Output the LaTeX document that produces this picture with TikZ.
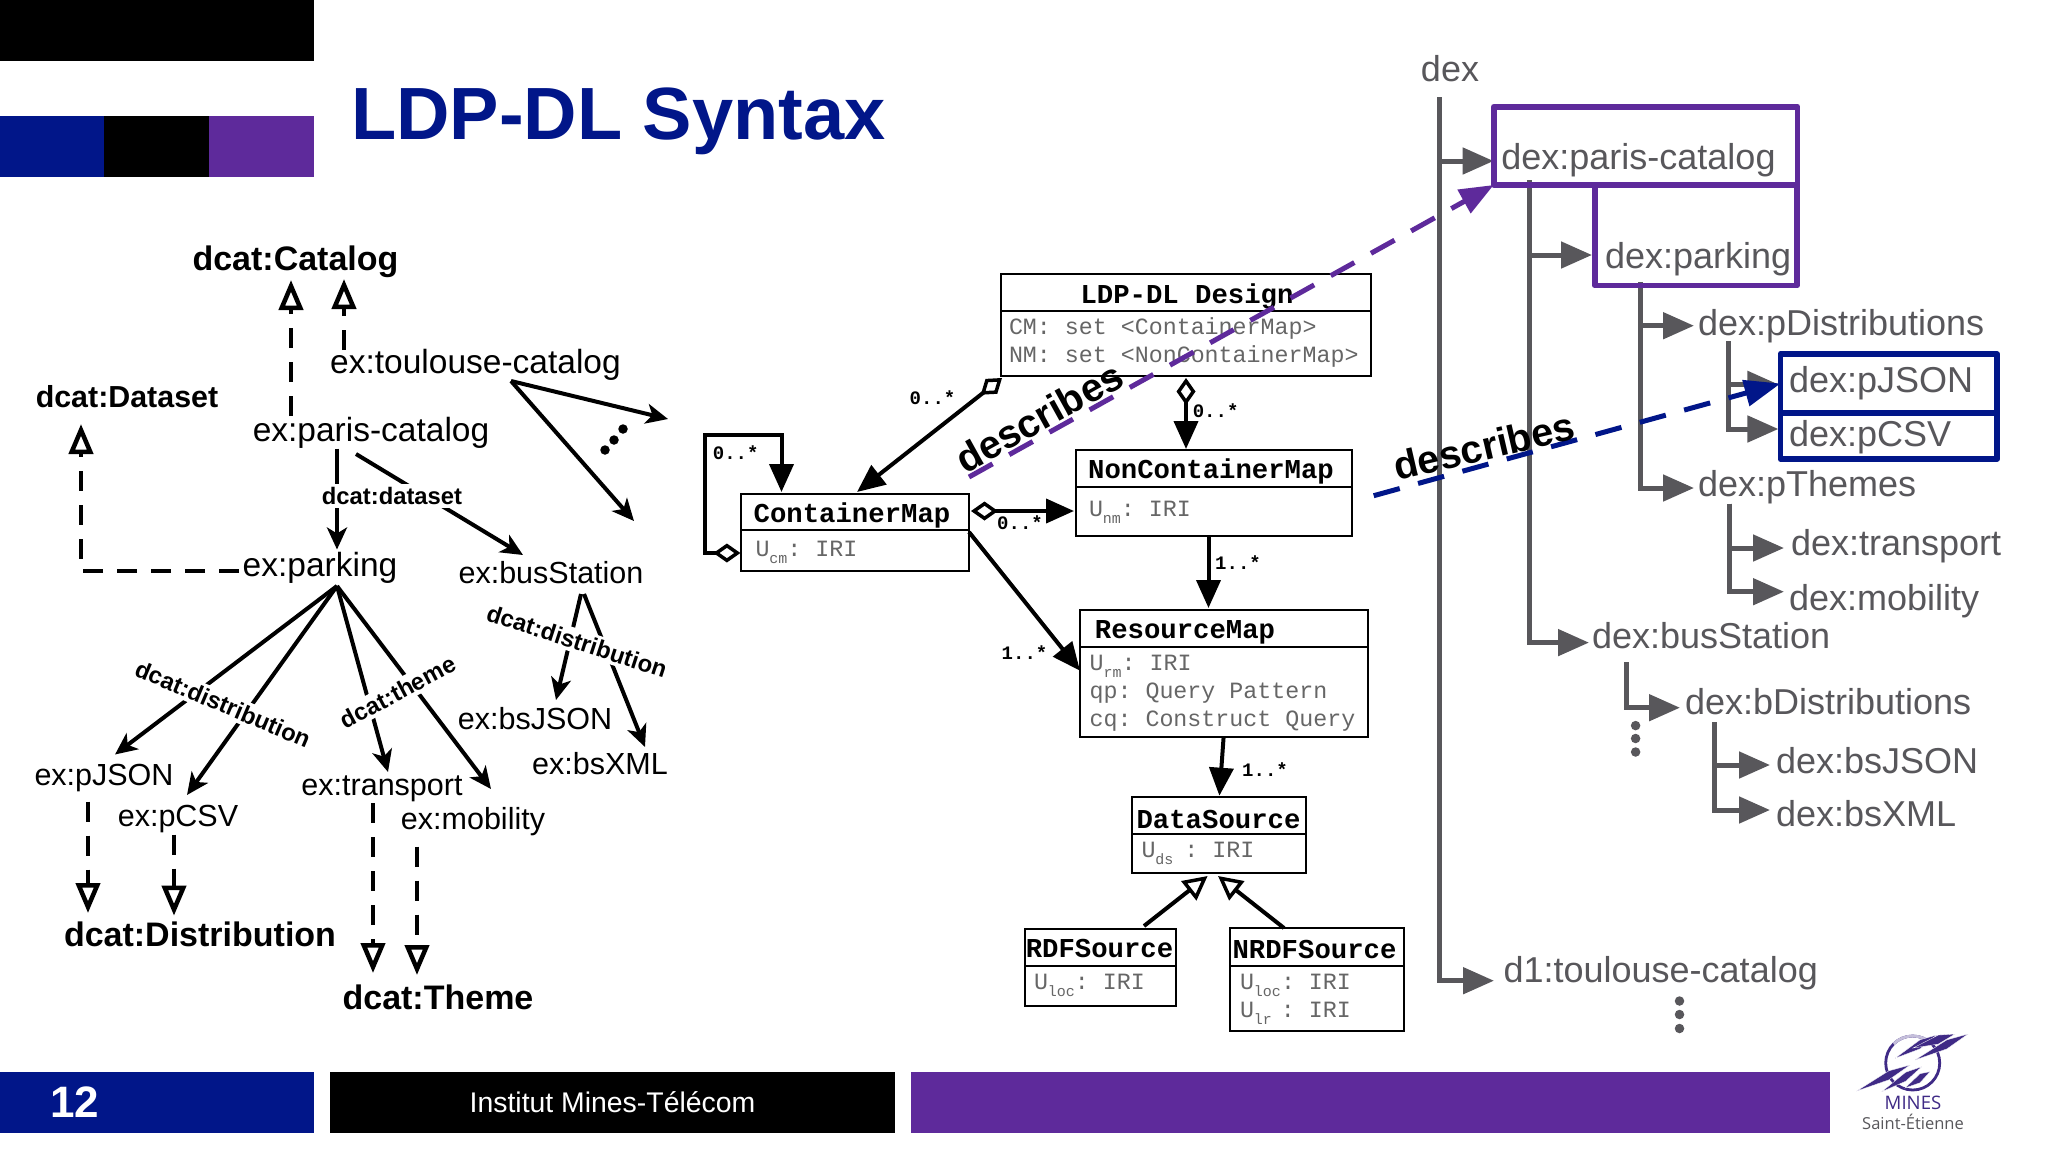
\documentclass[tikz,border=0pt]{standalone}
\usepackage{fontspec}
\setmainfont{Liberation Sans}
\newfontfamily\monof{Liberation Mono}
\newfontfamily\logof{Open Sans}
\usetikzlibrary{arrows.meta,calc}
\definecolor{lblue}{HTML}{011689}
\definecolor{lpurple}{HTML}{5E2A9B}
\definecolor{tgray}{HTML}{58575B}
\definecolor{logop}{HTML}{3F2A86}
\newcommand{\usub}[2][0pt]{U\raisebox{-7pt}{\fontsize{15pt}{15pt}\selectfont #2}\hspace{#1}}
\newcommand{\spike}[4]{\fill[logop,draw=white,line width=0.3pt] (#1,#2) -- ($(#1,#2)!.6!(#3,#4)+(0,-4.5)$) -- (#3,#4) -- ($(#1,#2)!.6!(#3,#4)+(0,4.5)$) -- cycle;}
\tikzset{
  every node/.style={inner sep=0pt,outer sep=0pt},
  rc/.style={font=\fontsize{33.5pt}{36pt}\selectfont,text height=27pt,text depth=4pt},
  rl/.style={font=\fontsize{30.5pt}{33pt}\selectfont,text height=25pt,text depth=3.5pt},
  bc/.style={font=\bfseries\fontsize{34pt}{36pt}\selectfont,text height=26.5pt,text depth=4.5pt},
  bcs/.style={font=\bfseries\fontsize{30.4pt}{33pt}\selectfont,text height=23pt,text depth=5pt},
  lab/.style={font=\bfseries\fontsize{23.8pt}{26pt}\selectfont,text height=19.5pt,text depth=2.5pt,fill=white,inner sep=1pt},
  ln/.style={line width=4pt,draw=black,-{Stealth[length=22pt,width=20pt,inset=6pt]}},
  dl/.style={line width=4pt,draw=black,dash pattern=on 20pt off 14pt,-{Triangle[length=30pt,width=24pt,line width=4.5pt,fill=white]}},
  uml/.style={draw=black,line width=2pt,fill=white,rectangle},
  ttl/.style={font=\monof\bfseries\fontsize{27.3pt}{30pt}\selectfont,text height=21.5pt,text depth=4pt},
  atr/.style={anchor=west,font=\monof\frenchspacing\fontsize{23.3pt}{26pt}\selectfont,text=black!60,text height=18pt,text depth=3pt},
  mul/.style={font=\monof\bfseries\fontsize{19pt}{21pt}\selectfont,text height=13pt,text depth=1pt},
  as/.style={line width=4pt,draw=black,-{Triangle[length=28pt,width=24pt]}},
  asd/.style={line width=4pt,draw=black,{Diamond[length=27pt,width=19pt,line width=3.5pt,fill=white]}-{Triangle[length=28pt,width=24pt]}},
  ih/.style={line width=4pt,draw=black,-{Triangle[length=24pt,width=24pt,line width=3.5pt,fill=white]}},
  tr/.style={anchor=west,font=\fontsize{36pt}{38pt}\selectfont,text=tgray,text height=27.5pt,text depth=5pt},
  te/.style={line width=5pt,draw=tgray,-{Triangle[length=31pt,width=26pt]}},
  dsc/.style={line width=5pt,dash pattern=on 27pt off 19pt},
  dscl/.style={font=\bfseries\fontsize{39.5pt}{42pt}\selectfont,text=black},
  dot/.style={circle,fill=#1,minimum size=9.5pt},
  hbox/.style={draw=#1,line width=5.8pt,rectangle,line join=round},
}
\begin{document}
\begin{tikzpicture}[x=1pt,y=-1pt]
\useasboundingbox (0,0) rectangle (2048,1152);
\fill[white] (0,0) rectangle (2048,1152);

% header and footer bands
\fill[black] (0,0) rectangle (314,60.7);
\fill[lblue] (0,116) rectangle (104.3,176.7);
\fill[black] (104.3,116) rectangle (209,176.7);
\fill[lpurple] (209,116) rectangle (314,176.7);
\fill[lblue] (0,1072) rectangle (314,1132.7);
\fill[black] (330,1072) rectangle (895,1132.7);
\fill[lpurple] (911,1072) rectangle (1830,1132.7);
\node[anchor=base west,font=\bfseries\fontsize{74pt}{76pt}\selectfont,text=lblue] (title) at (351,139) {LDP-DL Syntax};
\node[font=\bfseries\fontsize{44pt}{46pt}\selectfont,text=white,text height=32pt,text depth=0pt] (pg) at (75,1101) {12};
\node[font=\fontsize{28.4pt}{30pt}\selectfont,text=white,text height=20pt,text depth=6pt] (inst) at (612.5,1105.5) {Institut Mines-Télécom};

% logo
\draw[logop,line width=2.8pt] (1912.7,1063) circle (27);
\draw[logop!30,line width=2.8pt] (1931.8,1043.9) arc[start angle=-45,end angle=-135,radius=27];
\spike{1856.7}{1091}{1910}{1065}
\spike{1881.7}{1091.7}{1921.7}{1066.7}
\spike{1905}{1088}{1930}{1071.7}
\spike{1895}{1058.3}{1936.7}{1035}
\spike{1915}{1060}{1968}{1034}
\spike{1913}{1048}{1955}{1034}
\node[font=\logof\fontsize{18.6pt}{20pt}\selectfont,text=logop] (mines) at (1913,1102.7) {MINES};
\node[font=\logof\fontsize{16.5pt}{18pt}\selectfont,text=tgray] (saint) at (1913,1122) {Saint-Étienne};

% left graph
\node[bc] (cat) at (295.5,259) {dcat:Catalog};
\node[rc] (tou) at (475.5,362) {ex:toulouse-catalog};
\node[bcs] (data) at (127,398) {dcat:Dataset};
\node[rc] (par) at (371,430) {ex:paris-catalog};
\node[rc] (park) at (320,565) {ex:parking};
\node[rl] (bus) at (551,573) {ex:busStation};
\node[rl] (pj) at (104,775) {ex:pJSON};
\node[rl] (pc) at (178,816) {ex:pCSV};
\node[rl] (trn) at (382,785) {ex:transport};
\node[rl] (mob) at (473,819) {ex:mobility};
\node[rl] (bj) at (535,719) {ex:bsJSON};
\node[rl] (bx) at (600,764) {ex:bsXML};
\node[bc] (dist) at (200,935) {dcat:Distribution};
\node[bc] (th) at (438,998) {dcat:Theme};
\coordinate (free1) at (668,419);
\coordinate (free2) at (634,521);

\draw[dl] ([shift={(-80,-14)}]par.center) -- ([shift={(-4.5,21)}]cat.center);
\draw[dl] ([shift={(-131.5,-12)}]tou.center) -- ([shift={(48.5,20)}]cat.center);
\draw[dl] ([shift={(-81,5.5)}]park.center) -| ([shift={(-46,26)}]data.center);
\draw[dl] ([shift={(-16,26.6)}]pj.center) -- ([shift={(-112,-22)}]dist.center);
\draw[dl] ([shift={(-4,18.5)}]pc.center) -- ([shift={(-26,-19.4)}]dist.center);
\draw[dl] ([shift={(-9,18)}]trn.center) -- ([shift={(-65,-25)}]th.center);
\draw[dl] ([shift={(-56,27.6)}]mob.center) -- ([shift={(-21,-23)}]th.center);
\draw[ln] ([shift={(-34,18.5)}]par.center) -- ([shift={(17,-15.5)}]park.center);
\draw[ln] ([shift={(-15,24)}]par.center) -- ([shift={(-28,-18)}]bus.center);
\draw[ln] ([shift={(17,21)}]park.center) -- ([shift={(11,-20.5)}]pj.center);
\draw[ln] ([shift={(17,21)}]park.center) -- ([shift={(9,-21)}]pc.center);
\draw[ln] ([shift={(17,21)}]park.center) -- ([shift={(6,-13)}]trn.center);
\draw[ln] ([shift={(17,21)}]park.center) -- ([shift={(18,-30)}]mob.center);
\draw[ln] ([shift={(30,21)}]bus.center) -- ([shift={(21,-19)}]bj.center);
\draw[ln] ([shift={(33,21)}]bus.center) -- ([shift={(45,-17)}]bx.center);
\draw[ln] ([shift={(35.5,19)}]tou.center) -- (free1);
\draw[ln] ([shift={(35.5,19)}]tou.center) -- (free2);
\node[dot=black] (e1) at (623,429) {};
\node[dot=black] (e2) at (614,440) {};
\node[dot=black] (e3) at (605,450) {};
\node[lab] (ld) at (392,496) {dcat:dataset};
\node[lab,rotate=-23] (lp) at (223,704) {dcat:distribution};
\node[lab,rotate=28] (lt) at (398,692) {dcat:theme};
\node[lab,rotate=-18] (lb) at (577,641) {dcat:distribution};

% UML
\node[uml,minimum width=370pt,minimum height=102pt] (ldp) at (1186,325) {};
\node[uml,minimum width=276.5pt,minimum height=86pt] (ncm) at (1213.75,493) {};
\node[uml,minimum width=228pt,minimum height=77pt] (cm) at (855.3,532.5) {};
\node[uml,minimum width=288pt,minimum height=127pt] (rm) at (1224,673) {};
\node[uml,minimum width=174pt,minimum height=76pt] (ds) at (1219,835) {};
\node[uml,minimum width=151pt,minimum height=76.6pt] (rdf) at (1100,967.7) {};
\node[uml,minimum width=173.5pt,minimum height=102.5pt] (nrdf) at (1316.75,979.25) {};
\draw[line width=2pt] ([yshift=-37pt]ldp.north west) -- ([yshift=-37pt]ldp.north east);
\draw[line width=2pt] ([yshift=-37pt]ncm.north west) -- ([yshift=-37pt]ncm.north east);
\draw[line width=2pt] ([yshift=-36pt]cm.north west) -- ([yshift=-36pt]cm.north east);
\draw[line width=2pt] ([yshift=-37.5pt]rm.north west) -- ([yshift=-37.5pt]rm.north east);
\draw[line width=2pt] ([yshift=-36.5pt]ds.north west) -- ([yshift=-36.5pt]ds.north east);
\draw[line width=2pt] ([yshift=-36.6pt]rdf.north west) -- ([yshift=-36.6pt]rdf.north east);
\draw[line width=2pt] ([yshift=-38pt]nrdf.north west) -- ([yshift=-38pt]nrdf.north east);

\node[ttl] (ldpt) at (1187,295) {LDP-DL Design};
\node[atr] (ldpa) at (1009,327) {CM: set <ContainerMap>};
\node[atr] (ldpb) at (1009,355) {NM: set <NonContainerMap>};
\node[ttl] (ncmt) at (1211,470) {NonContainerMap};
\node[atr] (ncma) at (1089,508.5) {\usub{nm}: IRI};
\node[ttl] (cmt) at (852,513.6) {ContainerMap};
\node[atr] (cma) at (755.5,549) {\usub{cm}: IRI};
\node[ttl] (rmt) at (1185,630) {ResourceMap};
\node[atr] (rma) at (1089.6,663) {\usub{rm}: IRI};
\node[atr] (rmb) at (1089.6,691) {qp: Query Pattern};
\node[atr] (rmc) at (1089.6,719) {cq: Construct Query};
\node[ttl] (dst) at (1218.5,820) {DataSource};
\node[atr] (dsa) at (1141.5,850) {\usub[11pt]{ds}: IRI};
\node[ttl] (rdft) at (1099.5,949) {RDFSource};
\node[atr] (rdfa) at (1034,982) {\usub{loc}: IRI};
\node[ttl] (nrdft) at (1314.5,950) {NRDFSource};
\node[atr] (nrdfa) at (1240,982) {\usub{loc}: IRI};
\node[atr] (nrdfb) at (1240,1010) {\usub[9pt]{lr}: IRI};

\draw[asd] ([shift={(-184,53)}]ldp.center) -- ([shift={(1.7,-40.5)}]cm.center);
\draw[asd] ([shift={(0,53)}]ldp.center) -- ([shift={(-27.75,-44)}]ncm.center);
\draw[asd] ([shift={(-114.9,20.5)}]cm.center) -| ([shift={(-150.8,-97.5)}]cm.center) -| ([shift={(-73.8,-40.5)}]cm.center);
\draw[asd] ([shift={(115.7,-21.5)}]cm.center) -- ([shift={(-139.75,18)}]ncm.center);
\draw[as] ([shift={(113.7,-0.5)}]cm.center) -- ([shift={(-144,-2.3)}]rm.center);
\draw[as] ([shift={(-5.25,43)}]ncm.center) -- ([shift={(-15.5,-65)}]rm.center);
\draw[as] ([shift={(-0.4,64)}]rm.center) -- ([shift={(0.4,-39.3)}]ds.center);
\draw[ih] ([shift={(44,-41.7)}]rdf.center) -- ([shift={(-11.4,41)}]ds.center);
\draw[ih] ([shift={(-32.75,-51.25)}]nrdf.center) -- ([shift={(-1,41)}]ds.center);
\node[mul] (m1) at (932.5,398) {0..*};
\node[mul] (m2) at (1215.6,411) {0..*};
\node[mul] (m3) at (735.7,453) {0..*};
\node[mul] (m4) at (1020,523) {0..*};
\node[mul] (m5) at (1024.5,653) {1..*};
\node[mul] (m6) at (1238,563.6) {1..*};
\node[mul] (m7) at (1265,770) {1..*};

% directory tree
\node[font=\fontsize{36pt}{38pt}\selectfont,text=tgray,text height=28.5pt,text depth=4.5pt] (dex) at (1450,69) {dex};
\node[tr] (dpc) at (1501.4,158) {dex:paris-catalog};
\node[tr] (dpk) at (1605,257) {dex:parking};
\node[tr] (dpd) at (1698,324) {dex:pDistributions};
\node[tr] (dpj) at (1789,381) {dex:pJSON};
\node[tr] (dcs) at (1789,435) {dex:pCSV};
\node[tr] (dpt) at (1698,485) {dex:pThemes};
\node[tr] (dtr) at (1791,544) {dex:transport};
\node[tr] (dmo) at (1789,599) {dex:mobility};
\node[tr] (dbs) at (1592,637.6) {dex:busStation};
\node[tr] (dbd) at (1685,703) {dex:bDistributions};
\node[tr] (dbj) at (1776,762) {dex:bsJSON};
\node[tr] (dbx) at (1776,815) {dex:bsXML};
\node[tr] (dto) at (1503.6,971) {d1:toulouse-catalog};
\coordinate (t0) at ([shift={(-11,28)}]dex.center);
\coordinate (t1) at ([shift={(27.6,22)}]dpc.west);
\coordinate (t2) at ([shift={(35,25)}]dpk.west);
\coordinate (t3) at ([shift={(30,17)}]dpd.west);
\coordinate (t4) at ([shift={(31,18.6)}]dpt.west);
\coordinate (t5) at ([shift={(34,24.4)}]dbs.west);
\coordinate (t6) at ([shift={(29.5,19)}]dbd.west);
\draw[te] (t0) |- ([shift={(-7.8,3)}]dpc.west);
\draw[te] (t0) |- ([shift={(-9.6,9.7)}]dto.west);
\draw[te] (t1) |- ([shift={(-13,-2)}]dpk.west);
\draw[te] (t1) |- ([shift={(-3,5)}]dbs.west);
\draw[te] (t2) |- ([shift={(-4,1.7)}]dpd.west);
\draw[te] (t2) |- ([shift={(-4,3)}]dpt.west);
\draw[te] (t3) |- ([shift={(-10.6,3.4)}]dpj.west);
\draw[te] (t3) |- ([shift={(-10.6,-6)}]dcs.west);
\draw[te] (t4) |- ([shift={(-7,4)}]dtr.west);
\draw[te] (t4) |- ([shift={(-5,-7.3)}]dmo.west);
\draw[te] (t5) |- ([shift={(-5,4.7)}]dbd.west);
\draw[te] (t6) |- ([shift={(-6,3)}]dbj.west);
\draw[te] (t6) |- ([shift={(-6,-5)}]dbx.west);
\node[dot=tgray] (f1) at (1635.6,725.6) {};
\node[dot=tgray] (f2) at (1635.6,738.5) {};
\node[dot=tgray] (f3) at (1635.6,752) {};
\node[dot=tgray] (g1) at (1679.5,1001) {};
\node[dot=tgray] (g2) at (1679.5,1014.5) {};
\node[dot=tgray] (g3) at (1679.5,1028.5) {};

% highlight boxes and describes arrows
\node[hbox=lpurple,minimum width=303.8pt,minimum height=78.3pt] (pbox) at (1645.6,145.85) {};
\node[hbox=lpurple,minimum width=202pt,minimum height=100.5pt] (kbox) at (1696,235.25) {};
\node[hbox=lblue,minimum width=216.5pt,minimum height=59pt] (jbox) at (1888.75,383.5) {};
\node[hbox=lblue,minimum width=216.5pt,minimum height=46pt] (sbox) at (1888.75,436) {};
\coordinate (dp) at (969,477);
\coordinate (db) at (1373.7,495.7);
\draw[dsc,draw=lpurple,-{Triangle[length=34pt,width=26pt]}] (dp) -- (pbox.south west);
\draw[dsc,draw=lblue,-{Triangle[length=36pt,width=26pt]}] (db) -- (jbox.west);
\node[dscl,rotate=29] (dt1) at (1039,417) {describes};
\node[dscl,rotate=13] (dt2) at (1484,446) {describes};
\end{tikzpicture}
\end{document}
